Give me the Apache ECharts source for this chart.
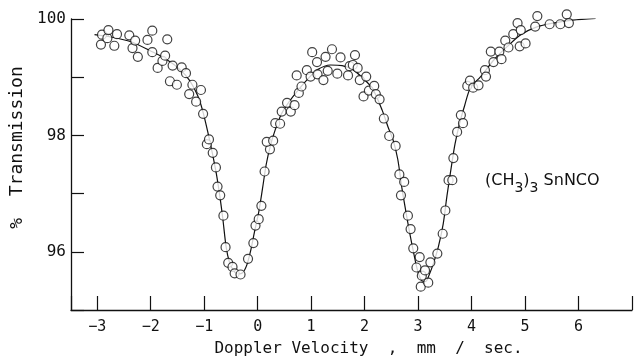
<!DOCTYPE html>
<html>
<head>
<meta charset="utf-8">
<script src="https://cdn.jsdelivr.net/npm/echarts@6/dist/echarts.min.js"></script>
<style>
  html, body { margin: 0; padding: 0; background: #fff; }
  #chart { width: 635px; height: 362px; }
</style>
</head>
<body>
<div id="chart"></div>
<script>
// measured points (doppler velocity mm/s, % transmission)
const velocity = [
  -2.93, -2.91, -2.81, -2.79, -2.68, -2.63, -2.40, -2.34, -2.29, -2.24,
  -2.06, -1.97, -1.97, -1.87, -1.78, -1.73, -1.69, -1.64, -1.59, -1.51,
  -1.42, -1.34, -1.28, -1.22, -1.15, -1.06, -1.02, -0.95, -0.91, -0.84,
  -0.78, -0.75, -0.70, -0.64, -0.60, -0.55, -0.47, -0.43, -0.32, -0.18,
  -0.08, -0.04, 0.02, 0.07, 0.13, 0.23, 0.17, 0.29, 0.33, 0.42,
  0.45, 0.55, 0.62, 0.69, 0.77, 0.82, 0.73, 0.92, 0.99, 1.02,
  1.11, 1.12, 1.23, 1.27, 1.31, 1.39, 1.49, 1.55, 1.69, 1.72,
  1.78, 1.82, 1.87, 1.91, 2.03, 1.98, 2.08, 2.18, 2.21, 2.28,
  2.36, 2.46, 2.58, 2.65, 2.74, 2.68, 2.81, 2.86, 2.91, 2.97,
  3.03, 3.07, 3.05, 3.13, 3.19, 3.23, 3.36, 3.46, 3.51, 3.57,
  3.64, 3.66, 3.73, 3.80, 3.84, 3.92, 3.97, 4.03, 4.13, 4.25,
  4.27, 4.36, 4.41, 4.52, 4.56, 4.63, 4.69, 4.78, 4.86, 4.92,
  4.90, 5.01, 5.19, 5.23, 5.46, 5.66, 5.78, 5.82
];
const transmission = [
  99.56, 99.73, 99.67, 99.81, 99.54, 99.74, 99.72, 99.50, 99.63, 99.35,
  99.64, 99.80, 99.43, 99.16, 99.28, 99.37, 99.65, 98.93, 99.20, 98.87,
  99.17, 99.07, 98.71, 98.87, 98.58, 98.78, 98.37, 97.85, 97.93, 97.70,
  97.45, 97.12, 96.97, 96.62, 96.08, 95.81, 95.74, 95.63, 95.61, 95.88,
  96.15, 96.45, 96.56, 96.79, 97.38, 97.76, 97.89, 97.91, 98.21, 98.20,
  98.41, 98.56, 98.41, 98.52, 98.73, 98.84, 99.03, 99.12, 99.01, 99.43,
  99.26, 99.05, 98.95, 99.35, 99.11, 99.48, 99.06, 99.34, 99.03, 99.19,
  99.21, 99.38, 99.16, 98.95, 99.01, 98.67, 98.77, 98.85, 98.71, 98.62,
  98.29, 97.99, 97.82, 97.33, 97.20, 96.97, 96.62, 96.39, 96.06, 95.73,
  95.91, 95.59, 95.40, 95.68, 95.47, 95.82, 95.97, 96.31, 96.71, 97.23,
  97.23, 97.61, 98.06, 98.35, 98.21, 98.85, 98.94, 98.82, 98.86, 99.12,
  99.01, 99.44, 99.26, 99.44, 99.31, 99.63, 99.51, 99.74, 99.93, 99.81,
  99.53, 99.58, 99.87, 100.05, 99.91, 99.91, 100.08, 99.93
];

// fitted curve
const fitVelocity = [
  -3.05, -2.74, -2.37, -2.00, -1.73, -1.45, -1.27, -1.12, -1.03, -0.94,
  -0.85, -0.77, -0.70, -0.65, -0.59, -0.53, -0.46, -0.37, -0.28, -0.20,
  -0.13, -0.06, 0.02, 0.09, 0.16, 0.24, 0.33, 0.44, 0.59, 0.75,
  0.94, 1.12, 1.36, 1.58, 1.78, 1.96, 2.15, 2.33, 2.44, 2.53,
  2.62, 2.70, 2.77, 2.84, 2.92, 2.99, 3.07, 3.14, 3.21, 3.29,
  3.38, 3.47, 3.54, 3.62, 3.69, 3.78, 3.87, 3.98, 4.17, 4.42,
  4.66, 4.92, 5.21, 5.53, 5.89, 6.32
];
const fitTransmission = [
  99.73, 99.69, 99.61, 99.45, 99.32, 99.13, 98.94, 98.68, 98.43, 98.09,
  97.71, 97.33, 96.91, 96.56, 96.09, 95.83, 95.69, 95.62, 95.64, 95.78,
  96.02, 96.34, 96.68, 97.08, 97.50, 97.83, 98.10, 98.36, 98.58, 98.77,
  98.97, 99.13, 99.21, 99.20, 99.13, 98.99, 98.80, 98.43, 98.14, 97.93,
  97.59, 97.08, 96.70, 96.34, 95.97, 95.68, 95.50, 95.49, 95.61, 95.81,
  96.09, 96.48, 96.96, 97.45, 97.85, 98.22, 98.51, 98.82, 99.01, 99.30,
  99.52, 99.73, 99.86, 99.93, 99.98, 100.01
];

// axis ticks that carry a label
const xTickLabels = [-3, -2, -1, 0, 1, 2, 3, 4, 5, 6];
const yTickLabels = [96, 98, 100];

const points = velocity.map((v, i) => [v, transmission[i]]);
const fitLine = fitVelocity.map((v, i) => [v, fitTransmission[i]]);

const ink = "#111";
const chart = echarts.init(document.getElementById("chart"));
chart.setOption({
  animation: false,
  backgroundColor: "#fff",
  grid: {
    left: 69,
    right: -5.3,
    top: 19,
    bottom: 50.5,
  },
  xAxis: {
    type: "value",
    min: -3.49,
    max: 7,
    minInterval: 1,
    maxInterval: 1,
    name: "Doppler Velocity  ,  mm  /  sec.",
    nameLocation: "middle",
    nameGap: 31,
    nameTextStyle: {
      fontFamily: "DejaVu Sans Mono",
      fontSize: 16,
      color: ink,
      padding: [0, 0, 0, 34],
    },
    axisLine: { onZero: false, lineStyle: { color: ink, width: 1.3 } },
    axisTick: { inside: true, length: 14, lineStyle: { color: ink, width: 1.2 } },
    axisLabel: {
      margin: 10,
      fontFamily: "DejaVu Sans Mono",
      fontSize: 15,
      color: ink,
      formatter: function (value) {
        if (xTickLabels.indexOf(value) < 0) return "";
        return value < 0 ? "\u2212" + Math.abs(value) : String(value);
      },
    },
    splitLine: { show: false },
  },
  yAxis: {
    type: "value",
    min: 95,
    max: 100,
    interval: 1,
    name: "%  Transmission",
    nameLocation: "middle",
    nameGap: 45,
    nameTextStyle: {
      fontFamily: "DejaVu Sans Mono",
      fontSize: 18,
      color: ink,
      padding: [0, 0, 0, 34],
    },
    axisLine: { onZero: false, lineStyle: { color: ink, width: 1.3 } },
    axisTick: { inside: true, length: 13, lineStyle: { color: ink, width: 1.2 } },
    axisLabel: {
      margin: 5,
      fontFamily: "DejaVu Sans Mono",
      fontSize: 16,
      color: ink,
      formatter: function (value) {
        return yTickLabels.indexOf(value) < 0 ? "" : String(value);
      },
    },
    splitLine: { show: false },
  },
  graphic: [
    {
      type: "text",
      left: 485,
      top: 173,
      style: {
        text: "{a|(CH}{b|3}{a|)}{b|3}{a| SnNCO}",
        rich: {
          a: { fontFamily: "DejaVu Sans", fontSize: 16, fill: ink, lineHeight: 22, verticalAlign: "top" },
          b: { fontFamily: "DejaVu Sans", fontSize: 14, fill: ink, lineHeight: 14, verticalAlign: "bottom" },
        },
      },
    },
  ],
  series: [
    {
      name: "fit",
      type: "line",
      data: fitLine,
      showSymbol: false,
      smooth: 0.3,
      lineStyle: { color: ink, width: 1.2 },
      z: 2,
    },
    {
      name: "measured",
      type: "scatter",
      data: points,
      symbol: "circle",
      symbolSize: 9,
      clip: false,
      itemStyle: { color: "#fff", borderColor: ink, borderWidth: 1.2 },
      z: 3,
    },
  ],
});
</script>
</body>
</html>
